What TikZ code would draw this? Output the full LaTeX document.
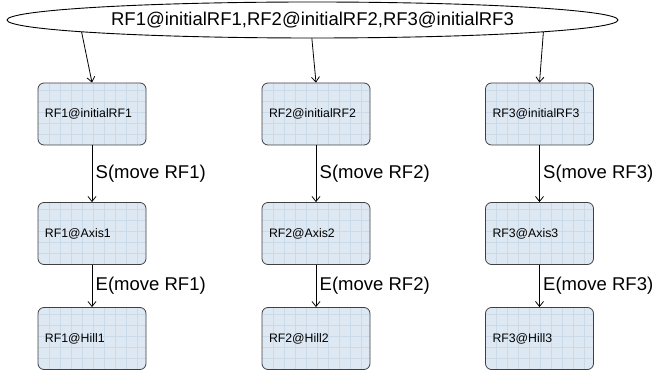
\documentclass[tikz,border=0pt]{standalone}
\usepackage{fontspec}
\setmainfont{Liberation Sans}
\usetikzlibrary{arrows.meta,shapes.geometric}

\definecolor{boxfill}{RGB}{221,232,242}
\definecolor{boxgrid}{RGB}{203,218,233}
\definecolor{boxline}{RGB}{64,64,64}

\tikzset{
    state/.style={draw=boxline, line width=0.8pt, fill=boxfill, rounded corners=6pt,
        minimum width=108pt, minimum height=62pt, text width=94pt, align=left,
        inner sep=7pt, font=\fontsize{12.3}{14}\selectfont,
        path picture={
            \foreach \g in {1,...,9} {
                \draw[boxgrid,line width=0.5pt] ([xshift=\g*11pt]path picture bounding box.south west)
                    -- ([xshift=\g*11pt]path picture bounding box.north west);
            }
            \foreach \g in {1,...,5} {
                \draw[boxgrid,line width=0.5pt] ([yshift=\g*11pt]path picture bounding box.south west)
                    -- ([yshift=\g*11pt]path picture bounding box.south east);
            }
        }},
    trans/.style={-{Straight Barb[length=5pt,width=8pt]}, line width=0.8pt},
    lbl/.style={font=\fontsize{18.5}{22}\selectfont}
}

\begin{document}
\begin{tikzpicture}[x=1pt,y=1pt]
    \useasboundingbox (0,0) rectangle (665,372);

    % Initial configuration
    \node[ellipse, draw=black, line width=0.9pt, minimum width=611pt, minimum height=36pt,
        inner sep=0pt, lbl] (top) at (312.5,352) {RF1@initialRF1,RF2@initialRF2,RF3@initialRF3};

    % One column per robot
    \foreach \k/\x in {1/92,2/316,3/539.5} {
        \node[state] (init\k) at (\x,258) {RF\k@initialRF\k};
        \node[state] (axis\k) at (\x,138.5) {RF\k@Axis\k};
        \node[state] (hill\k) at (\x,33.5) {RF\k@Hill\k};

        \draw[trans] (init\k) -- (axis\k) node[midway,right,lbl] {S(move RF\k)};
        \draw[trans] (axis\k) -- (hill\k) node[midway,right,lbl] {E(move RF\k)};
    }

    % Split of the initial state
    \draw[trans] (top.183.45) -- (init1.north);
    \draw[trans] (top.268) -- (init2.north);
    \draw[trans] (top.-3.4) -- (init3.north);
\end{tikzpicture}
\end{document}
